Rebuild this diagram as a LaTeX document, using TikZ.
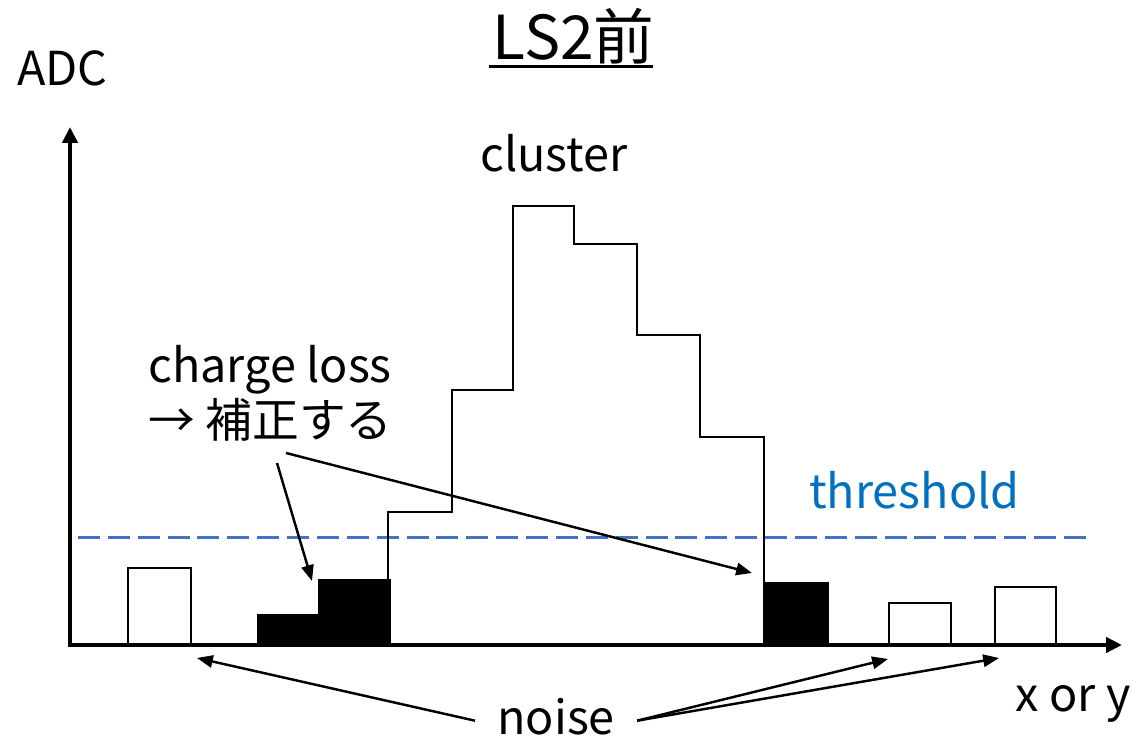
\documentclass[tikz,border=0pt]{standalone}
\usepackage{fontspec}
\setmainfont{Noto Sans CJK JP}
\usepackage{xcolor}
\usetikzlibrary{arrows.meta}
\definecolor{thrline}{HTML}{4472C4}
\definecolor{thrtext}{HTML}{0070C0}
\tikzset{
    lbl/.style={inner sep=0pt,anchor=base west,font=\fontsize{26.6}{30}\selectfont},
    bin/.style={line width=1.5pt,draw=black,fill=white},
    hitbin/.style={line width=1.5pt,draw=black,fill=black},
    callout/.style={line width=1.4pt,-{Triangle[length=9pt,width=7pt]}}
}

\begin{document}
\begin{tikzpicture}[line cap=butt,line join=miter,x=1cm,y=1cm]
                \useasboundingbox (-1.4,-1.92) rectangle (21.26,12.9);
                % title
                \node[lbl,anchor=base] (title) at (10.07,11.7) {\fontsize{34.5}{40}\selectfont LS2前};
                \draw [line width=1.7pt] (8.38,11.56)-- (11.66,11.56);
                % threshold
                \draw [line width=1.7pt,color=thrline,dash pattern=on 12.5pt off 4.5pt] (0.16,2.14)-- (20.38,2.14);
                % noise and charge loss bins
                \draw [bin] (1.16,0) rectangle (2.42,1.54);
                \draw [hitbin] (3.76,0) rectangle (4.98,0.6);
                \draw [hitbin] (4.98,0) rectangle (6.4,1.3);
                \draw [hitbin] (13.88,0) rectangle (15.16,1.24);
                \draw [bin] (16.38,0) rectangle (17.62,0.84);
                \draw [bin] (18.5,0) rectangle (19.72,1.16);
                % cluster
                \draw [line width=1.2pt] (6.36,1.3)-- (6.36,2.66)-- (7.64,2.66)-- (7.64,5.1)-- (8.86,5.1)-- (8.86,8.78)
                    -- (10.08,8.78)-- (10.08,8.02)-- (11.34,8.02)-- (11.34,6.2)-- (12.6,6.2)-- (12.6,4.16)
                    -- (13.88,4.16)-- (13.88,1.24);
                % axes
                \coordinate (O) at (0,0);
                \coordinate (ytip) at (0,10.36);
                \coordinate (xtip) at (21.04,0);
                \draw [line width=2.3pt,-{Triangle[length=9pt,width=8.5pt]}] (-0.04,0)-- (xtip);
                \draw [line width=2.3pt,-{Triangle[length=9pt,width=8.5pt]}] (O)-- (ytip);
                % labels
                \node[lbl] (adc) at (-1.06,11.18) {ADC};
                \node[lbl] (xory) at (18.9,-1.34) {x or y};
                \node[lbl] (cluster) at (8.2,9.46) {cluster};
                \node[lbl,text=thrtext] (thr) at (14.78,2.72) {threshold};
                \node[lbl] (loss) at (1.56,5.24) {charge loss};
                \node[lbl] (fix) at (1.56,4.14) {→ 補正する};
                \node[lbl,inner xsep=12.5pt] (noise) at (8.1,-1.8) {noise};
                % arrows
                \coordinate (fixA) at (4.14,3.64);
                \coordinate (fixB) at (4.32,3.84);
                \coordinate (lossL) at (4.84,1.28);
                \coordinate (lossR) at (13.64,1.44);
                \coordinate (nzA) at (2.54,-0.26);
                \coordinate (nzB) at (16.36,-0.28);
                \coordinate (nzC) at (18.58,-0.26);
                \draw [callout] (fixA)-- (lossL);
                \draw [callout] (fixB)-- (lossR);
                \draw [callout] ([yshift=-2pt]noise.west)-- (nzA);
                \draw [callout] ([yshift=-2pt]noise.east)-- (nzB);
                \draw [callout] ([yshift=-2pt]noise.east)-- (nzC);
\end{tikzpicture}
\end{document}
